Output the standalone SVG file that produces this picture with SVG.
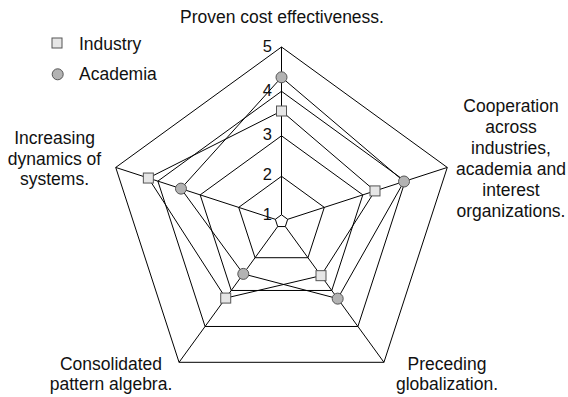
<svg xmlns="http://www.w3.org/2000/svg" width="568" height="397" viewBox="0 0 568 397">
<defs>
<style>
.grid{fill:none;stroke:#000;stroke-width:1}
.series{fill:none;stroke:#000;stroke-width:1}
.sq{fill:#e6e6e6;stroke:#555;stroke-width:1}
.ci{fill:#b3b3b3;stroke:#555;stroke-width:1}
text{font-family:"Liberation Sans",Arial,sans-serif;font-size:17.5px;fill:#111}
.c{text-anchor:middle}
.tick{font-size:16.5px;text-anchor:end}
</style>
<rect id="sqm" x="-5" y="-5" width="10" height="10" class="sq"/>
<circle id="cim" r="5.5" class="ci"/>
</defs>
<rect width="568" height="397" fill="#fff"/>
<g id="grid">
<polygon class="grid" points="281.5,47 447.27,167.44 383.95,362.31 179.05,362.31 115.73,167.44"/>
<polygon class="grid" points="281.5,91.3 405.14,181.13 357.91,326.47 205.09,326.47 157.86,181.13"/>
<polygon class="grid" points="281.5,135.8 362.82,194.88 331.76,290.47 231.24,290.47 200.18,194.88"/>
<polygon class="grid" points="281.5,176.3 324.3,207.39 307.95,257.71 255.05,257.71 238.7,207.39"/>
<polygon class="grid" points="281.5,214.8 287.68,219.29 285.32,226.56 277.68,226.56 275.32,219.29"/>
</g>
<g id="connectors">
<line class="grid" x1="281.5" y1="214.8" x2="281.5" y2="47"/>
<line class="grid" x1="287.68" y1="219.29" x2="447.27" y2="167.44"/>
<line class="grid" x1="285.32" y1="226.56" x2="383.95" y2="362.31"/>
<line class="grid" x1="277.68" y1="226.56" x2="179.05" y2="362.31"/>
<line class="grid" x1="275.32" y1="219.29" x2="115.73" y2="167.44"/>
<polygon id="industry-line" class="series" points="281.5,111 374.99,190.92 321,275.67 225.72,298.08 148.35,178.04"/>
<polygon id="academia-line" class="series" points="281.5,77.3 404,181.5 337.69,298.64 243.29,273.89 180.97,188.64"/>
</g>
<g id="industry">
<use href="#sqm" x="281.5" y="111"/>
<use href="#sqm" x="374.99" y="190.92"/>
<use href="#sqm" x="321" y="275.67"/>
<use href="#sqm" x="225.72" y="298.08"/>
<use href="#sqm" x="148.35" y="178.04"/>
</g>
<g id="academia">
<use href="#cim" x="281.5" y="77.3"/>
<use href="#cim" x="404" y="181.5"/>
<use href="#cim" x="337.69" y="298.64"/>
<use href="#cim" x="243.29" y="273.89"/>
<use href="#cim" x="180.97" y="188.64"/>
</g>
<g id="ticks">
<text class="tick" x="272" y="51.5">5</text>
<text class="tick" x="272" y="96">4</text>
<text class="tick" x="272" y="140">3</text>
<text class="tick" x="272" y="180">2</text>
<text class="tick" x="272" y="219.5">1</text>
</g>
<g id="axis-top"><text class="c" x="282" y="23">Proven cost effectiveness.</text></g>
<g id="axis-right">
<text class="c" x="511" y="112.3">Cooperation</text>
<text class="c" x="511" y="133.3">across</text>
<text class="c" x="511" y="154.3">industries,</text>
<text class="c" x="511" y="175.3">academia and</text>
<text class="c" x="511" y="196.3">interest</text>
<text class="c" x="511" y="217.3">organizations.</text>
</g>
<g id="axis-bottom-right">
<text class="c" x="447" y="370">Preceding</text>
<text class="c" x="447" y="389.5">globalization.</text>
</g>
<g id="axis-bottom-left">
<text class="c" x="111" y="370">Consolidated</text>
<text class="c" x="111" y="390">pattern algebra.</text>
</g>
<g id="axis-left">
<text class="c" x="54.5" y="144.3">Increasing</text>
<text class="c" x="54.5" y="165">dynamics of</text>
<text class="c" x="54.5" y="184.5">systems.</text>
</g>
<g id="legend">
<use href="#sqm" x="57" y="43"/>
<text x="79" y="49.5">Industry</text>
<use href="#cim" x="57.7" y="74.3"/>
<text x="79" y="80">Academia</text>
</g>
</svg>
